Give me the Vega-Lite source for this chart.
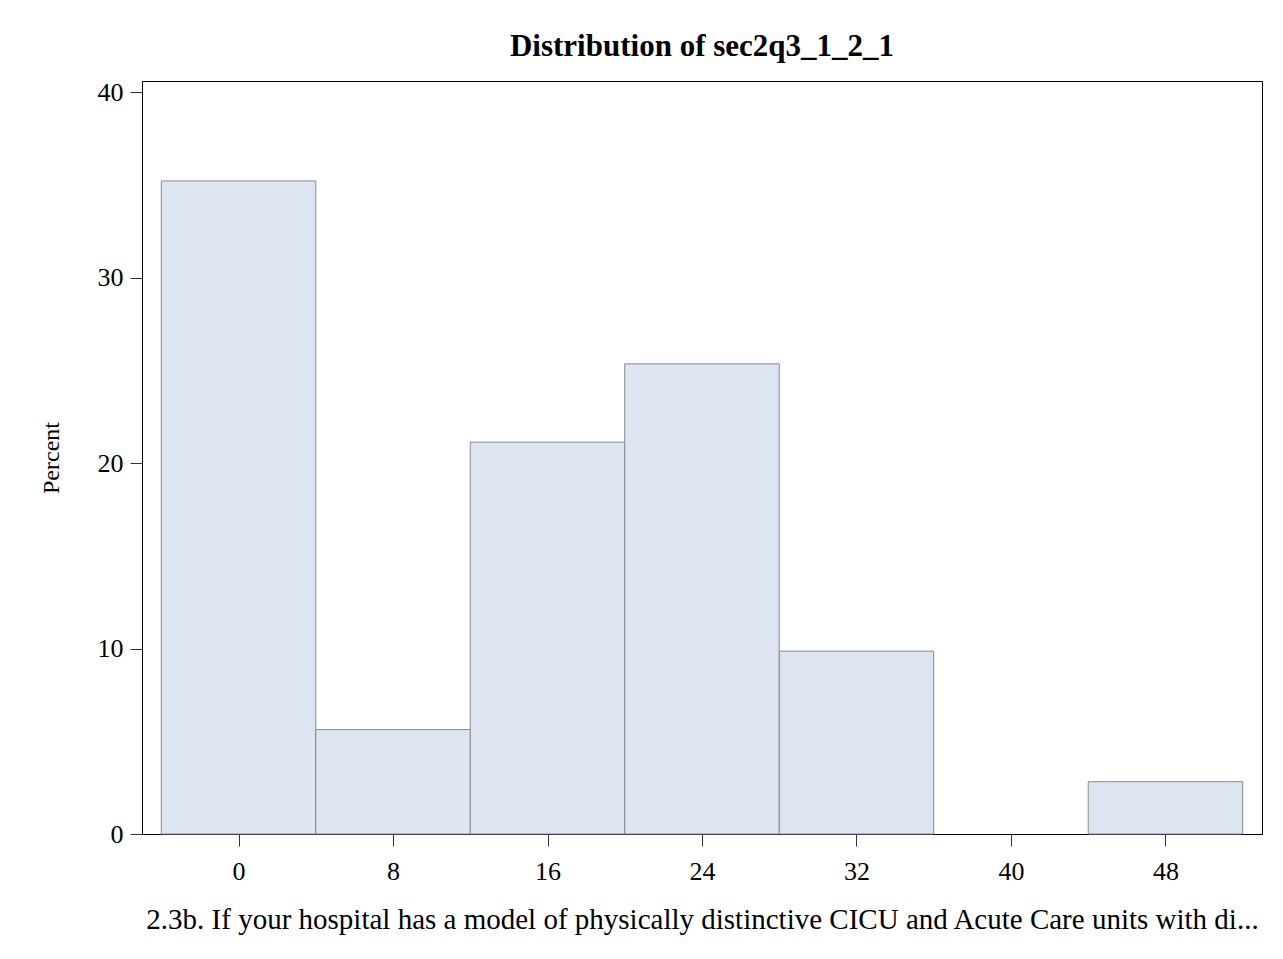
{
  "$schema": "https://vega.github.io/schema/vega-lite/v6.json",
  "width": 1120,
  "height": 753,
  "autosize": {"type": "none"},
  "padding": {"left": 142, "top": 81, "right": 21, "bottom": 125},
  "background": "white",
  "title": {
    "text": "Distribution of sec2q3_1_2_1",
    "font": "Liberation Serif",
    "fontWeight": "bold",
    "fontSize": 31,
    "color": "black",
    "anchor": "middle",
    "baseline": "alphabetic",
    "offset": -8
  },
  "data": {
    "values": [
      {"bin_start": -4, "bin_end": 4, "percent": 35.21},
      {"bin_start": 4, "bin_end": 12, "percent": 5.63},
      {"bin_start": 12, "bin_end": 20, "percent": 21.13},
      {"bin_start": 20, "bin_end": 28, "percent": 25.35},
      {"bin_start": 28, "bin_end": 36, "percent": 9.86},
      {"bin_start": 44, "bin_end": 52, "percent": 2.82}
    ]
  },
  "mark": {"type": "rect", "fill": "#DCE5F1", "stroke": "#858a92", "strokeWidth": 1},
  "encoding": {
    "x": {
      "field": "bin_start",
      "type": "quantitative",
      "scale": {"domain": [-5, 53], "nice": false, "zero": false},
      "axis": {
        "values": [0, 8, 16, 24, 32, 40, 48],
        "title": "2.3b. If your hospital has a model of physically distinctive CICU and Acute Care units with di...",
        "titleFont": "Liberation Serif",
        "titleFontSize": 29,
        "titleFontWeight": "normal",
        "titleColor": "black",
        "titlePadding": 21,
        "labelFont": "Liberation Serif",
        "labelFontSize": 26,
        "labelColor": "black",
        "labelPadding": 12,
        "tickSize": 12,
        "tickColor": "#333333",
        "domainColor": "black",
        "grid": false
      }
    },
    "x2": {"field": "bin_end"},
    "y": {
      "field": "percent",
      "type": "quantitative",
      "scale": {"domain": [0, 40.6], "nice": false},
      "axis": {
        "values": [0, 10, 20, 30, 40],
        "title": "Percent",
        "titleFont": "Liberation Serif",
        "titleFontSize": 24,
        "titleFontWeight": "normal",
        "titleColor": "black",
        "titlePadding": 34,
        "labelFont": "Liberation Serif",
        "labelFontSize": 26,
        "labelColor": "black",
        "labelPadding": 7,
        "tickSize": 12,
        "tickColor": "#333333",
        "domainColor": "black",
        "grid": false
      }
    },
    "y2": {"datum": 0}
  },
  "config": {
    "view": {"stroke": "black", "strokeWidth": 1}
  }
}
